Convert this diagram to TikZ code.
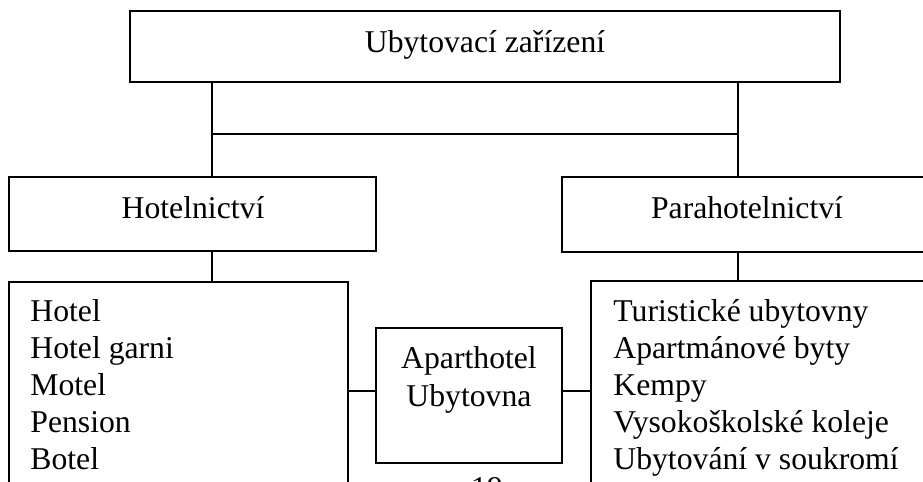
\documentclass[tikz,border=0pt]{standalone}
\usepackage{fontspec}
\setmainfont{Liberation Serif}
\begin{document}
\begin{tikzpicture}[x=0.5pt,y=-0.5pt,
  box/.style={draw,line width=0.75pt,rectangle,inner sep=0pt},
  conn/.style={line width=0.75pt},
  txt/.style={inner sep=0pt,font=\fontsize{15.85}{18.5}\selectfont}]
\useasboundingbox (0,0) rectangle (923,482);
% boxes
\node[box,minimum width=355pt,minimum height=35.5pt] (top) at (485,46.5) {};
\node[box,minimum width=183.5pt,minimum height=37pt] (hot) at (192.5,214) {};
\node[box,minimum width=185pt,minimum height=37.5pt] (para) at (747,214.5) {};
\node[box,minimum width=169.5pt,minimum height=129pt] (hlist) at (178.5,411) {};
\node[box,minimum width=184.5pt,minimum height=129.5pt] (plist) at (775.5,410.5) {};
\node[box,minimum width=93pt,minimum height=67.5pt] (apart) at (469,395.5) {};
% texts
\node[txt,anchor=base] (ttop) at (485,53) {Ubytovací zařízení};
\node[txt,anchor=base] (thot) at (193,218) {Hotelnictví};
\node[txt,anchor=base] (tpara) at (747,218) {Parahotelnictví};
\node[txt,anchor=base west] (h1) at (30,321) {Hotel};
\node[txt,anchor=base west] (h2) at (30,358) {Hotel garni};
\node[txt,anchor=base west] (h3) at (30,395) {Motel};
\node[txt,anchor=base west] (h4) at (30,432) {Pension};
\node[txt,anchor=base west] (h5) at (30,469) {Botel};
\node[txt,anchor=base west] (p1) at (613,321) {Turistické ubytovny};
\node[txt,anchor=base west] (p2) at (613,358) {Apartmánové byty};
\node[txt,anchor=base west] (p3) at (613,395) {Kempy};
\node[txt,anchor=base west] (p4) at (613,432) {Vysokoškolské koleje};
\node[txt,anchor=base west] (p5) at (613,469) {Ubytování v soukromí};
\node[txt,anchor=base] (a1) at (469,368) {Aparthotel};
\node[txt,anchor=base] (a2) at (469,406) {Ubytovna};
\node[txt,anchor=base] (pg) at (487,498.5) {19};
% connectors
\coordinate (jl) at (212,134);
\coordinate (jr) at (738,134);
\coordinate (my) at (0,391);
\draw[conn] (jl |- top.south) -- (jl |- hot.north);
\draw[conn] (jr |- top.south) -- (jr |- para.north);
\draw[conn] (jl) -- (jr);
\draw[conn] (jl |- hot.south) -- (jl |- hlist.north);
\draw[conn] (jr |- para.south) -- (jr |- plist.north);
\draw[conn] (hlist.east |- my) -- (apart.west |- my);
\draw[conn] (apart.east |- my) -- (plist.west |- my);
\end{tikzpicture}
\end{document}
